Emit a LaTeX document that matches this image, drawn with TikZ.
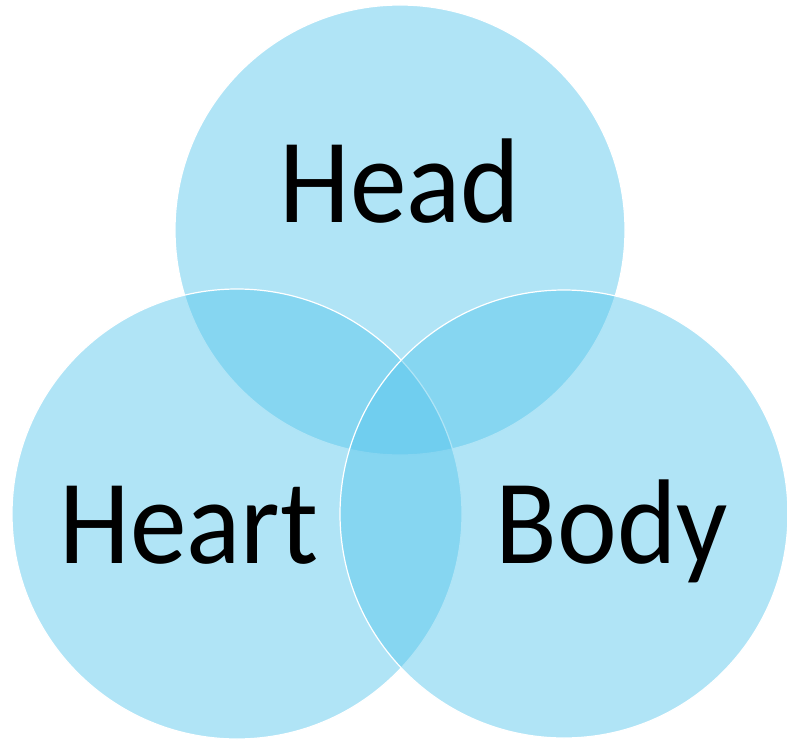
\documentclass[tikz,border=0pt]{standalone}
\usepackage{fontspec}
\setmainfont{Carlito}
\definecolor{vennblue}{RGB}{87,198,236}

\tikzset{
	venncircle/.style={fill=vennblue, fill opacity=0.47, draw=white, line width=1.2bp},
	venntext/.style={font=\fontsize{121}{130}\selectfont, text=black, anchor=base, inner sep=0pt, transform shape, xscale=0.94}
}

\begin{document}
\begin{tikzpicture}[x=1bp, y=-1bp]
		\useasboundingbox (0, 0) rectangle (787, 743);

		\coordinate (headc) at (400, 230);
		\coordinate (heartc) at (237, 514);
		\coordinate (bodyc) at (564, 514);

		% the three circles, later ones on top
		\path [venncircle] (headc) circle [radius=225bp];
		\path [venncircle] (heartc) circle [radius=225bp];
		\path [venncircle] (bodyc) circle [radius=224bp];

		\node (head) [venntext] at (400, 222) {Head};
		\node (heart) [venntext] at (189, 563) {Heart};
		\node (body) [venntext] at (612, 563) {Body};
	\end{tikzpicture}
\end{document}
